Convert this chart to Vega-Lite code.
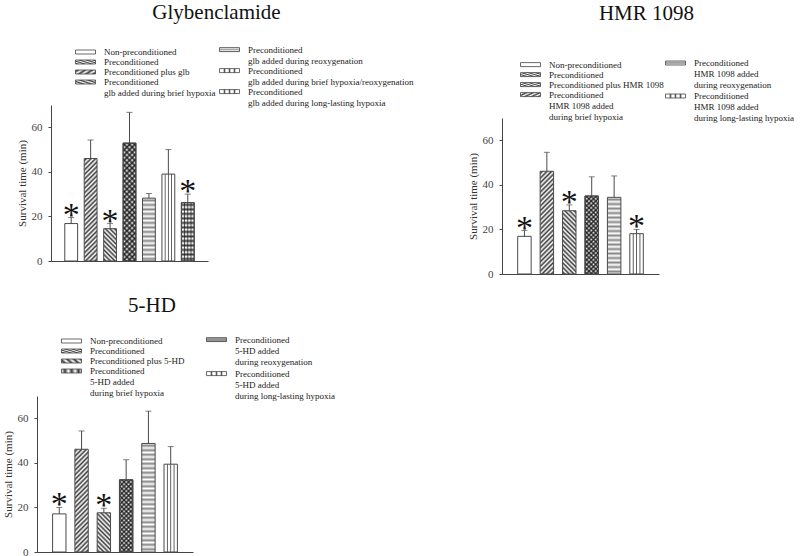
{
 "$schema": "https://vega.github.io/schema/vega-lite/v6.json",
 "background": "white",
 "padding": {"left": 2, "top": 1, "right": 0, "bottom": 0},
 "params": [
  {"name": "sH", "value": [{"offset":0,"color":"#fff"},{"offset":0.02,"color":"#3c3c3c"},{"offset":0.04,"color":"#fff"},{"offset":0.06,"color":"#3c3c3c"},{"offset":0.08,"color":"#fff"},{"offset":0.1,"color":"#3c3c3c"},{"offset":0.12,"color":"#fff"},{"offset":0.14,"color":"#3c3c3c"},{"offset":0.16,"color":"#fff"},{"offset":0.18,"color":"#3c3c3c"},{"offset":0.2,"color":"#fff"},{"offset":0.22,"color":"#3c3c3c"},{"offset":0.24,"color":"#fff"},{"offset":0.26,"color":"#3c3c3c"},{"offset":0.28,"color":"#fff"},{"offset":0.3,"color":"#3c3c3c"},{"offset":0.32,"color":"#fff"},{"offset":0.34,"color":"#3c3c3c"},{"offset":0.36,"color":"#fff"},{"offset":0.38,"color":"#3c3c3c"},{"offset":0.4,"color":"#fff"},{"offset":0.42,"color":"#3c3c3c"},{"offset":0.44,"color":"#fff"},{"offset":0.46,"color":"#3c3c3c"},{"offset":0.48,"color":"#fff"},{"offset":0.5,"color":"#3c3c3c"},{"offset":0.52,"color":"#fff"},{"offset":0.54,"color":"#3c3c3c"},{"offset":0.56,"color":"#fff"},{"offset":0.58,"color":"#3c3c3c"},{"offset":0.6,"color":"#fff"},{"offset":0.62,"color":"#3c3c3c"},{"offset":0.64,"color":"#fff"},{"offset":0.66,"color":"#3c3c3c"},{"offset":0.68,"color":"#fff"},{"offset":0.7,"color":"#3c3c3c"},{"offset":0.72,"color":"#fff"},{"offset":0.74,"color":"#3c3c3c"},{"offset":0.76,"color":"#fff"},{"offset":0.78,"color":"#3c3c3c"},{"offset":0.8,"color":"#fff"},{"offset":0.82,"color":"#3c3c3c"},{"offset":0.84,"color":"#fff"},{"offset":0.86,"color":"#3c3c3c"},{"offset":0.88,"color":"#fff"},{"offset":0.9,"color":"#3c3c3c"},{"offset":0.92,"color":"#fff"},{"offset":0.94,"color":"#3c3c3c"},{"offset":0.96,"color":"#fff"},{"offset":0.98,"color":"#3c3c3c"},{"offset":1,"color":"#fff"}]},
  {"name": "sL", "value": [{"offset":0,"color":"#fff"},{"offset":0.02,"color":"#888"},{"offset":0.04,"color":"#fff"},{"offset":0.06,"color":"#888"},{"offset":0.08,"color":"#fff"},{"offset":0.1,"color":"#888"},{"offset":0.12,"color":"#fff"},{"offset":0.14,"color":"#888"},{"offset":0.16,"color":"#fff"},{"offset":0.18,"color":"#888"},{"offset":0.2,"color":"#fff"},{"offset":0.22,"color":"#888"},{"offset":0.24,"color":"#fff"},{"offset":0.26,"color":"#888"},{"offset":0.28,"color":"#fff"},{"offset":0.3,"color":"#888"},{"offset":0.32,"color":"#fff"},{"offset":0.34,"color":"#888"},{"offset":0.36,"color":"#fff"},{"offset":0.38,"color":"#888"},{"offset":0.4,"color":"#fff"},{"offset":0.42,"color":"#888"},{"offset":0.44,"color":"#fff"},{"offset":0.46,"color":"#888"},{"offset":0.48,"color":"#fff"},{"offset":0.5,"color":"#888"},{"offset":0.52,"color":"#fff"},{"offset":0.54,"color":"#888"},{"offset":0.56,"color":"#fff"},{"offset":0.58,"color":"#888"},{"offset":0.6,"color":"#fff"},{"offset":0.62,"color":"#888"},{"offset":0.64,"color":"#fff"},{"offset":0.66,"color":"#888"},{"offset":0.68,"color":"#fff"},{"offset":0.7,"color":"#888"},{"offset":0.72,"color":"#fff"},{"offset":0.74,"color":"#888"},{"offset":0.76,"color":"#fff"},{"offset":0.78,"color":"#888"},{"offset":0.8,"color":"#fff"},{"offset":0.82,"color":"#888"},{"offset":0.84,"color":"#fff"},{"offset":0.86,"color":"#888"},{"offset":0.88,"color":"#fff"},{"offset":0.9,"color":"#888"},{"offset":0.92,"color":"#fff"},{"offset":0.94,"color":"#888"},{"offset":0.96,"color":"#fff"},{"offset":0.98,"color":"#888"},{"offset":1,"color":"#fff"}]},
  {"name": "sO", "value": [{"offset":0,"color":"rgba(0,0,0,0)"},{"offset":0.02,"color":"rgba(20,20,20,0.8)"},{"offset":0.04,"color":"rgba(0,0,0,0)"},{"offset":0.06,"color":"rgba(20,20,20,0.8)"},{"offset":0.08,"color":"rgba(0,0,0,0)"},{"offset":0.1,"color":"rgba(20,20,20,0.8)"},{"offset":0.12,"color":"rgba(0,0,0,0)"},{"offset":0.14,"color":"rgba(20,20,20,0.8)"},{"offset":0.16,"color":"rgba(0,0,0,0)"},{"offset":0.18,"color":"rgba(20,20,20,0.8)"},{"offset":0.2,"color":"rgba(0,0,0,0)"},{"offset":0.22,"color":"rgba(20,20,20,0.8)"},{"offset":0.24,"color":"rgba(0,0,0,0)"},{"offset":0.26,"color":"rgba(20,20,20,0.8)"},{"offset":0.28,"color":"rgba(0,0,0,0)"},{"offset":0.3,"color":"rgba(20,20,20,0.8)"},{"offset":0.32,"color":"rgba(0,0,0,0)"},{"offset":0.34,"color":"rgba(20,20,20,0.8)"},{"offset":0.36,"color":"rgba(0,0,0,0)"},{"offset":0.38,"color":"rgba(20,20,20,0.8)"},{"offset":0.4,"color":"rgba(0,0,0,0)"},{"offset":0.42,"color":"rgba(20,20,20,0.8)"},{"offset":0.44,"color":"rgba(0,0,0,0)"},{"offset":0.46,"color":"rgba(20,20,20,0.8)"},{"offset":0.48,"color":"rgba(0,0,0,0)"},{"offset":0.5,"color":"rgba(20,20,20,0.8)"},{"offset":0.52,"color":"rgba(0,0,0,0)"},{"offset":0.54,"color":"rgba(20,20,20,0.8)"},{"offset":0.56,"color":"rgba(0,0,0,0)"},{"offset":0.58,"color":"rgba(20,20,20,0.8)"},{"offset":0.6,"color":"rgba(0,0,0,0)"},{"offset":0.62,"color":"rgba(20,20,20,0.8)"},{"offset":0.64,"color":"rgba(0,0,0,0)"},{"offset":0.66,"color":"rgba(20,20,20,0.8)"},{"offset":0.68,"color":"rgba(0,0,0,0)"},{"offset":0.7,"color":"rgba(20,20,20,0.8)"},{"offset":0.72,"color":"rgba(0,0,0,0)"},{"offset":0.74,"color":"rgba(20,20,20,0.8)"},{"offset":0.76,"color":"rgba(0,0,0,0)"},{"offset":0.78,"color":"rgba(20,20,20,0.8)"},{"offset":0.8,"color":"rgba(0,0,0,0)"},{"offset":0.82,"color":"rgba(20,20,20,0.8)"},{"offset":0.84,"color":"rgba(0,0,0,0)"},{"offset":0.86,"color":"rgba(20,20,20,0.8)"},{"offset":0.88,"color":"rgba(0,0,0,0)"},{"offset":0.9,"color":"rgba(20,20,20,0.8)"},{"offset":0.92,"color":"rgba(0,0,0,0)"},{"offset":0.94,"color":"rgba(20,20,20,0.8)"},{"offset":0.96,"color":"rgba(0,0,0,0)"},{"offset":0.98,"color":"rgba(20,20,20,0.8)"},{"offset":1,"color":"rgba(0,0,0,0)"}]},
  {"name": "gV", "value": {"gradient": "linear", "x1": 0, "y1": 0, "x2": 1, "y2": 0, "stops": [{"offset":0,"color":"#fff"},{"offset":0.18,"color":"#fff"},{"offset":0.25,"color":"#555"},{"offset":0.32,"color":"#fff"},{"offset":0.43,"color":"#fff"},{"offset":0.5,"color":"#555"},{"offset":0.57,"color":"#fff"},{"offset":0.68,"color":"#fff"},{"offset":0.75,"color":"#555"},{"offset":0.82,"color":"#fff"},{"offset":1,"color":"#fff"}]}}
 ],
 "concat": [
  {"concat": [
   {
    "title": {"text": "Glybenclamide", "dx": 94, "offset": 22.5},
    "width": 171, "height": 156,
    "data": {"values": [
     {"cond": "Non-preconditioned", "mean": 16.8, "err": 19.5, "sig": "*"},
     {"cond": "Preconditioned", "mean": 46.0, "err": 54.3, "sig": ""},
     {"cond": "Preconditioned plus glb", "mean": 14.5, "err": 16.8, "sig": "*"},
     {"cond": "Preconditioned|glb added during brief hypoxia", "mean": 52.9, "err": 66.7, "sig": ""},
     {"cond": "Preconditioned|glb added during reoxygenation", "mean": 28.2, "err": 30.3, "sig": ""},
     {"cond": "Preconditioned|glb added during brief hypoxia/reoxygenation", "mean": 39.0, "err": 50.0, "sig": ""},
     {"cond": "Preconditioned|glb added during long-lasting hypoxia", "mean": 26.2, "err": 30.0, "sig": "*"}
    ]},
    "encoding": {"x": {"field": "cond", "type": "nominal", "sort": null, "scale": {"range": [14, 171], "paddingInner": 0.34, "paddingOuter": 0.71}, "axis": {"title": null, "labels": false, "ticks": false}}},
    "layer": [
     {"transform": [{"filter": {"field": "cond", "oneOf": ["Non-preconditioned", "Preconditioned", "Preconditioned plus glb", "Preconditioned|glb added during brief hypoxia"]}}],
      "mark": {"type": "bar", "stroke": "#4a4a4a", "strokeWidth": 1},
      "encoding": {
       "y": {"field": "mean", "type": "quantitative", "scale": {"domain": [0, 70], "nice": false}, "axis": {"title": "Survival time (min)", "offset": -14, "values": [0, 20, 40, 60]}},
       "fill": {"field": "cond", "type": "nominal", "sort": null, "scale": {"range": ["#ffffff", {"expr": "{gradient:'linear',x1:0,y1:0,x2:0.1383,y2:1.1076,stops:sH}"}, {"expr": "{gradient:'linear',x1:0,y1:1,x2:1.199,y2:-2.027,stops:sH}"}, {"expr": "{gradient:'linear',x1:0,y1:0,x2:0.119,y2:1.0957,stops:sH}"}]}, "legend": {"title": null, "orient": "none", "direction": "vertical", "legendX": 44, "legendY": -57.5, "rowPadding": -2.3, "labelExpr": "split(datum.label, '|')"}}
      }},
     {"transform": [{"filter": {"field": "cond", "oneOf": ["Preconditioned|glb added during reoxygenation", "Preconditioned|glb added during brief hypoxia/reoxygenation", "Preconditioned|glb added during long-lasting hypoxia"]}}],
      "mark": {"type": "bar", "stroke": "#4a4a4a", "strokeWidth": 1},
      "encoding": {
       "y": {"field": "mean", "type": "quantitative"},
       "fill": {"field": "cond", "type": "nominal", "sort": null, "scale": {"range": [{"expr": "{gradient:'linear',x1:0,y1:0,x2:0,y2:1.79,stops:sL}"}, {"expr": "gV"}, {"expr": "gV"}]}, "legend": {"title": null, "orient": "none", "direction": "vertical", "legendX": 188, "legendY": -59.9, "rowPadding": 0, "labelExpr": "split(datum.label, '|')"}}
      }},
     {"transform": [{"filter": {"field": "cond", "equal": "Preconditioned|glb added during brief hypoxia"}}],
      "mark": {"type": "bar", "stroke": "#4a4a4a", "strokeWidth": 1, "fill": {"expr": "{gradient:'linear',x1:0,y1:1,x2:0.119,y2:-0.0957,stops:sO}"}},
      "encoding": {"y": {"field": "mean", "type": "quantitative"}}},
     {"transform": [{"filter": {"field": "cond", "equal": "Preconditioned|glb added during long-lasting hypoxia"}}],
      "mark": {"type": "bar", "stroke": "#4a4a4a", "strokeWidth": 1, "fill": {"expr": "{gradient:'linear',x1:0,y1:0,x2:0,y2:1.93,stops:sO}"}},
      "encoding": {"y": {"field": "mean", "type": "quantitative"}}},
     {"mark": {"type": "rule", "color": "#4a4a4a"}, "encoding": {"y": {"field": "mean", "type": "quantitative"}, "y2": {"field": "err"}}},
     {"mark": {"type": "tick", "color": "#4a4a4a", "size": 6, "thickness": 1}, "encoding": {"y": {"field": "err", "type": "quantitative"}}},
     {"mark": {"type": "text", "fontSize": 34, "dy": 8, "baseline": "alphabetic", "color": "#111"}, "encoding": {"y": {"field": "err", "type": "quantitative"}, "text": {"field": "sig"}}}
    ],
    "resolve": {"scale": {"fill": "independent"}, "legend": {"fill": "independent"}}
   },
   {
    "title": {"text": "HMR 1098", "dx": 66, "offset": 34.7},
    "width": 157, "height": 169,
    "data": {"values": [
     {"cond": "Non-preconditioned", "mean": 16.9, "err": 19.5, "sig": "*"},
     {"cond": "Preconditioned", "mean": 46.1, "err": 54.6, "sig": ""},
     {"cond": "Preconditioned plus HMR 1098", "mean": 28.4, "err": 31.0, "sig": "*"},
     {"cond": "Preconditioned|HMR 1098 added|during brief hypoxia", "mean": 35.0, "err": 43.6, "sig": ""},
     {"cond": "Preconditioned|HMR 1098 added|during reoxygenation", "mean": 34.4, "err": 44.0, "sig": ""},
     {"cond": "Preconditioned|HMR 1098 added|during long-lasting hypoxia", "mean": 18.1, "err": 20.0, "sig": "*"}
    ]},
    "encoding": {"x": {"field": "cond", "type": "nominal", "sort": null, "scale": {"paddingInner": 0.4, "paddingOuter": 0.7}, "axis": {"title": null, "labels": false, "ticks": false}}},
    "layer": [
     {"transform": [{"filter": {"field": "cond", "oneOf": ["Non-preconditioned", "Preconditioned", "Preconditioned plus HMR 1098", "Preconditioned|HMR 1098 added|during brief hypoxia"]}}],
      "mark": {"type": "bar", "stroke": "#4a4a4a", "strokeWidth": 1},
      "encoding": {
       "y": {"field": "mean", "type": "quantitative", "scale": {"domain": [0, 70], "nice": false, "range": [169, 13]}, "axis": {"title": "Survival time (min)", "values": [0, 20, 40, 60]}},
       "fill": {"field": "cond", "type": "nominal", "sort": null, "scale": {"range": ["#ffffff", {"expr": "{gradient:'linear',x1:0,y1:0,x2:0.1458,y2:1.1124,stops:sH}"}, {"expr": "{gradient:'linear',x1:0,y1:1,x2:0.3635,y2:-0.709,stops:sH}"}, {"expr": "{gradient:'linear',x1:0,y1:0,x2:0.243,y2:1.408,stops:sH}"}]}, "legend": {"title": null, "orient": "none", "direction": "vertical", "legendX": 24, "legendY": -44.9, "rowPadding": -2.5, "labelExpr": "split(datum.label, '|')"}}
      }},
     {"transform": [{"filter": {"field": "cond", "oneOf": ["Preconditioned|HMR 1098 added|during reoxygenation", "Preconditioned|HMR 1098 added|during long-lasting hypoxia"]}}],
      "mark": {"type": "bar", "stroke": "#4a4a4a", "strokeWidth": 1},
      "encoding": {
       "y": {"field": "mean", "type": "quantitative"},
       "fill": {"field": "cond", "type": "nominal", "sort": null, "scale": {"range": [{"expr": "{gradient:'linear',x1:0,y1:0,x2:0,y2:1.467,stops:sL}"}, {"expr": "gV"}]}, "legend": {"title": null, "orient": "none", "direction": "vertical", "legendX": 169, "legendY": -46.5, "rowPadding": 1, "labelExpr": "split(datum.label, '|')"}}
      }},
     {"transform": [{"filter": {"field": "cond", "equal": "Preconditioned|HMR 1098 added|during brief hypoxia"}}],
      "mark": {"type": "bar", "stroke": "#4a4a4a", "strokeWidth": 1, "fill": {"expr": "{gradient:'linear',x1:0,y1:1,x2:0.243,y2:-0.408,stops:sO}"}},
      "encoding": {"y": {"field": "mean", "type": "quantitative"}}},
     {"mark": {"type": "rule", "color": "#4a4a4a"}, "encoding": {"y": {"field": "mean", "type": "quantitative"}, "y2": {"field": "err"}}},
     {"mark": {"type": "tick", "color": "#4a4a4a", "size": 6, "thickness": 1}, "encoding": {"y": {"field": "err", "type": "quantitative"}}},
     {"mark": {"type": "text", "fontSize": 34, "dy": 8, "baseline": "alphabetic", "color": "#111"}, "encoding": {"y": {"field": "err", "type": "quantitative"}, "text": {"field": "sig"}}}
    ],
    "resolve": {"scale": {"fill": "independent"}, "legend": {"fill": "independent"}}
   }
  ], "columns": 2, "align": "none", "spacing": 53},
  {
   "title": {"text": "5-HD", "dx": 37, "offset": 19},
   "width": 156, "height": 156,
   "data": {"values": [
    {"cond": "Non-preconditioned", "mean": 17.1, "err": 20.0, "sig": "*"},
    {"cond": "Preconditioned", "mean": 46.1, "err": 54.3, "sig": ""},
    {"cond": "Preconditioned plus 5-HD", "mean": 17.6, "err": 19.6, "sig": "*"},
    {"cond": "Preconditioned|5-HD added|during brief hypoxia", "mean": 32.4, "err": 41.4, "sig": ""},
    {"cond": "Preconditioned|5-HD added|during reoxygenation", "mean": 48.7, "err": 63.2, "sig": ""},
    {"cond": "Preconditioned|5-HD added|during long-lasting hypoxia", "mean": 39.4, "err": 47.3, "sig": ""}
   ]},
   "encoding": {"x": {"field": "cond", "type": "nominal", "sort": null, "scale": {"paddingInner": 0.4, "paddingOuter": 0.7}, "axis": {"title": null, "labels": false, "ticks": false}}},
   "layer": [
    {"transform": [{"filter": {"field": "cond", "oneOf": ["Non-preconditioned", "Preconditioned", "Preconditioned plus 5-HD", "Preconditioned|5-HD added|during brief hypoxia"]}}],
     "mark": {"type": "bar", "stroke": "#4a4a4a", "strokeWidth": 1},
     "encoding": {
      "y": {"field": "mean", "type": "quantitative", "scale": {"domain": [0, 70], "nice": false}, "axis": {"title": "Survival time (min)", "values": [0, 20, 40, 60]}},
      "fill": {"field": "cond", "type": "nominal", "sort": null, "scale": {"range": ["#ffffff", {"expr": "{gradient:'linear',x1:0,y1:0,x2:0.1458,y2:1.1124,stops:sH}"}, {"expr": "{gradient:'linear',x1:0,y1:1,x2:0.886,y2:-1.58,stops:sH}"}, {"expr": "{gradient:'linear',x1:0,y1:0,x2:0.2822,y2:1.514,stops:sH}"}]}, "legend": {"title": null, "orient": "none", "direction": "vertical", "legendX": 30, "legendY": -59.5, "rowPadding": -2.3, "labelExpr": "split(datum.label, '|')"}}
     }},
    {"transform": [{"filter": {"field": "cond", "oneOf": ["Preconditioned|5-HD added|during reoxygenation", "Preconditioned|5-HD added|during long-lasting hypoxia"]}}],
     "mark": {"type": "bar", "stroke": "#4a4a4a", "strokeWidth": 1},
     "encoding": {
      "y": {"field": "mean", "type": "quantitative"},
      "fill": {"field": "cond", "type": "nominal", "sort": null, "scale": {"range": [{"expr": "{gradient:'linear',x1:0,y1:0,x2:0,y2:1.037,stops:sL}"}, {"expr": "gV"}]}, "legend": {"title": null, "orient": "none", "direction": "vertical", "legendX": 175, "legendY": -60.9, "rowPadding": 2, "labelExpr": "split(datum.label, '|')"}}
     }},
    {"transform": [{"filter": {"field": "cond", "equal": "Preconditioned|5-HD added|during brief hypoxia"}}],
     "mark": {"type": "bar", "stroke": "#4a4a4a", "strokeWidth": 1, "fill": {"expr": "{gradient:'linear',x1:0,y1:1,x2:0.2822,y2:-0.514,stops:sO}"}},
     "encoding": {"y": {"field": "mean", "type": "quantitative"}}},
    {"mark": {"type": "rule", "color": "#4a4a4a"}, "encoding": {"y": {"field": "mean", "type": "quantitative"}, "y2": {"field": "err"}}},
    {"mark": {"type": "tick", "color": "#4a4a4a", "size": 6, "thickness": 1}, "encoding": {"y": {"field": "err", "type": "quantitative"}}},
    {"mark": {"type": "text", "fontSize": 34, "dy": 8, "baseline": "alphabetic", "color": "#111"}, "encoding": {"y": {"field": "err", "type": "quantitative"}, "text": {"field": "sig"}}}
   ],
   "resolve": {"scale": {"fill": "independent"}, "legend": {"fill": "independent"}}
  }
 ],
 "columns": 1, "align": "none", "spacing": 16,
 "config": {
  "font": "Liberation Serif, Times New Roman, Tinos, DejaVu Serif, serif",
  "view": {"stroke": null},
  "title": {"font": "Liberation Serif, Times New Roman, Tinos, DejaVu Serif, serif", "fontSize": 21, "fontWeight": "normal", "color": "#111", "anchor": "middle"},
  "text": {"font": "Liberation Serif, Times New Roman, Tinos, DejaVu Serif, serif"},
  "axis": {"domainColor": "#444", "tickColor": "#444", "grid": false},
  "axisY": {"labelFont": "Liberation Serif, Times New Roman, Tinos, DejaVu Serif, serif", "labelFontSize": 11, "labelColor": "#444", "tickSize": 3, "labelPadding": 6, "titleFont": "Liberation Serif, Times New Roman, Tinos, DejaVu Serif, serif", "titleFontSize": 11, "titleFontWeight": "normal", "titleColor": "#333", "titlePadding": 4},
  "legend": {"symbolType": "M-5,-1H5V1H-5Z", "symbolSize": 16, "symbolStrokeColor": "#444", "symbolStrokeWidth": 0.8, "labelFont": "Liberation Serif, Times New Roman, Tinos, DejaVu Serif, serif", "labelFontSize": 9, "labelColor": "#222", "labelLimit": 400, "labelOffset": 14, "padding": 0, "offset": 0}
 }
}
